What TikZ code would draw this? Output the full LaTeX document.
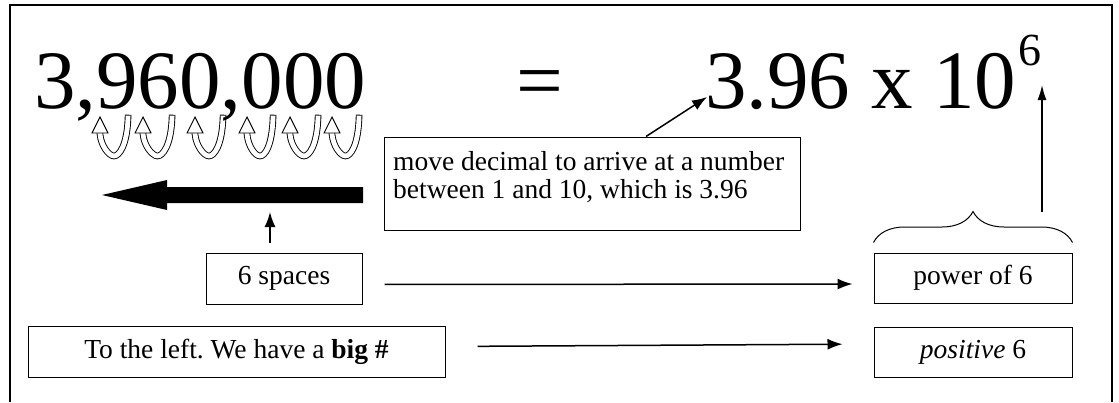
\documentclass[tikz,border=0pt]{standalone}
\usepackage{fontspec}
\setmainfont{Liberation Serif}
\usetikzlibrary{arrows.meta,decorations.pathreplacing}
\tikzset{
  frameline/.style={line width=2pt},
  bigtxt/.style={inner sep=0pt, font=\fontsize{83}{83}\selectfont},
  box/.style={draw, line width=1pt, inner sep=0pt, font=\fontsize{27.5}{27.5}\selectfont},
  arr/.style={line width=1.5pt, -{Latex[length=15pt,width=11pt]}},
  ubend/.style={double=white, double distance=4.8pt, line width=0.9pt, line cap=rect},
  uhead/.style={fill=white, draw=black, line width=0.9pt, line join=miter},
  bracestyle/.style={line width=1pt, decorate, decoration={brace, amplitude=31pt}}
}
\begin{document}
\frenchspacing
\begin{tikzpicture}[x=1pt,y=-1pt]
\useasboundingbox (0,0) rectangle (1119,402);
% frame (open at the bottom)
\draw[frameline] (10,402) -- (10,5) -- (1112,5) -- (1112,402);

% hollow jump arrows under the number
\foreach \l/\r in {100/128,143/172,195/223,247/273,290/318,332/359} {
  \pgfmathsetmacro\m{(\l+\r)/2}
  \draw[ubend] (\r,118) .. controls ({\r-1},146) and ({\m+5},156) .. (\m,156)
     .. controls ({\m-5},156) and ({\l+1},146) .. (\l,134);
  \filldraw[uhead] (\l,117) -- ({\l-8},133) -- ({\l+8},133) -- cycle;
}

% big texts
\node[bigtxt, anchor=base west] (num) at (34,108) {3,960,000};
\node[bigtxt, anchor=base] (eq) at (540,108) {=};
\node[bigtxt, anchor=base west] (sci) at (705,108)
  {3.96 x 10\kern2pt\raisebox{43pt}{\fontsize{46}{46}\selectfont 6}};

% thick arrow to the left
\fill (363,187) -- (167,187) -- (167,180) -- (102,195) -- (167,210) -- (167,203) -- (363,203) -- cycle;

% boxes
\node[box, minimum width=416pt, minimum height=93pt] (move) at (592,183.5) {};
\node[inner sep=0pt, anchor=base west, font=\fontsize{27.5}{28}\selectfont] (movetxt) at (393,170)
  {\begin{tabular}[t]{@{}l@{}}move decimal to arrive at a number\\between 1 and 10, which is 3.96\end{tabular}};
\node[box, minimum width=156pt, minimum height=51pt] (spaces) at (284,278.5) {6 spaces};
\node[box, minimum width=417pt, minimum height=51pt] (left) at (236.5,351.5) {To the left. We have a \textbf{big \#}};
\node[box, minimum width=198pt, minimum height=50pt] (power) at (973,278) {power of 6};
\node[box, minimum width=198pt, minimum height=50pt] (pos) at (973,352) {\textit{positive} 6};

% coordinates for free ends
\coordinate (three) at (707,97);
\coordinate (thick) at (270,212);
\coordinate (bracetop) at (1042,212);
\coordinate (expo) at (1042,85);

% connectors
\draw[arr] ([xshift=54pt]move.north) -- (three);
\draw[arr, shorten <=10pt] ([xshift=-14pt]spaces.north) -- (thick);
\draw[arr, shorten <=22pt, shorten >=21pt] ([yshift=-6pt]spaces.east) -- ([yshift=-6pt]power.west);
\draw[arr, shorten <=32pt, shorten >=31pt] ([yshift=5pt]left.east) -- ([yshift=8pt]pos.west);
\draw[arr, -{Latex[length=15pt,width=9pt]}] (bracetop) -- (expo);

% brace over "power of 6"
\draw[bracestyle] ([yshift=10pt]power.north west) -- ([yshift=10pt]power.north east);
\end{tikzpicture}
\end{document}
